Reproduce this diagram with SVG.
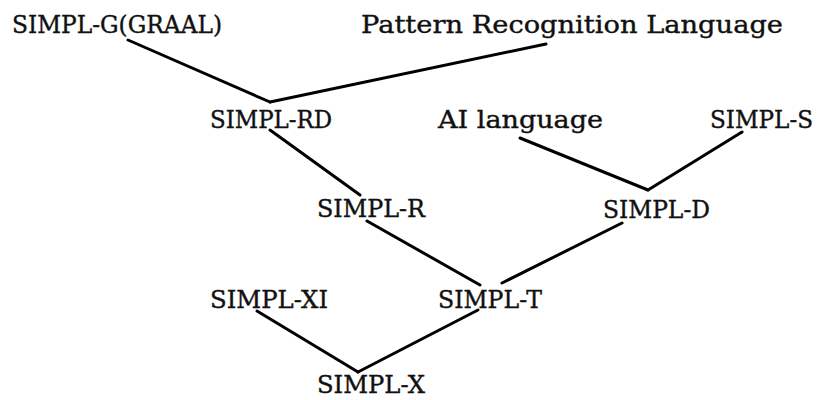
<svg xmlns="http://www.w3.org/2000/svg" width="821" height="400" viewBox="0 0 821 400">
<style>
text{font-family:"DejaVu Serif","Liberation Serif",serif;font-size:25px;fill:#111;stroke:#111;stroke-width:0.4}
.e{stroke:#000;stroke-width:3;fill:none;stroke-linecap:round}
</style>
<rect width="821" height="400" fill="#fff"/>
<g id="connectors">
<line class="e" x1="128" y1="40" x2="270" y2="102"/>
<line class="e" x1="270" y1="102" x2="546" y2="44"/>
<line class="e" x1="270" y1="130" x2="360" y2="195"/>
<line class="e" x1="367" y1="221" x2="480" y2="285"/>
<line class="e" x1="520" y1="138" x2="648" y2="190"/>
<line class="e" x1="742" y1="132" x2="648" y2="190"/>
<line class="e" x1="622" y1="223" x2="502" y2="283"/>
<line class="e" x1="257" y1="311" x2="358" y2="372"/>
<line class="e" x1="358" y1="372" x2="478" y2="310"/>
</g>
<g id="n-simplg"><text x="12" y="33" textLength="210" lengthAdjust="spacingAndGlyphs">SIMPL-G(GRAAL)</text></g>
<g id="n-prl"><text x="361" y="33" textLength="422" lengthAdjust="spacingAndGlyphs">Pattern Recognition Language</text></g>
<g id="n-simplrd"><text x="210" y="128" textLength="122" lengthAdjust="spacingAndGlyphs">SIMPL-RD</text></g>
<g id="n-ai"><text x="438" y="128" textLength="165" lengthAdjust="spacingAndGlyphs">AI language</text></g>
<g id="n-simpls"><text x="710" y="128" textLength="103" lengthAdjust="spacingAndGlyphs">SIMPL-S</text></g>
<g id="n-simplr"><text x="317" y="217" textLength="108" lengthAdjust="spacingAndGlyphs">SIMPL-R</text></g>
<g id="n-simpld"><text x="603" y="218" textLength="107" lengthAdjust="spacingAndGlyphs">SIMPL-D</text></g>
<g id="n-simplxi"><text x="210" y="308" textLength="118" lengthAdjust="spacingAndGlyphs">SIMPL-XI</text></g>
<g id="n-simplt"><text x="438" y="308" textLength="104" lengthAdjust="spacingAndGlyphs">SIMPL-T</text></g>
<g id="n-simplx"><text x="317" y="393" textLength="108" lengthAdjust="spacingAndGlyphs">SIMPL-X</text></g>
</svg>
